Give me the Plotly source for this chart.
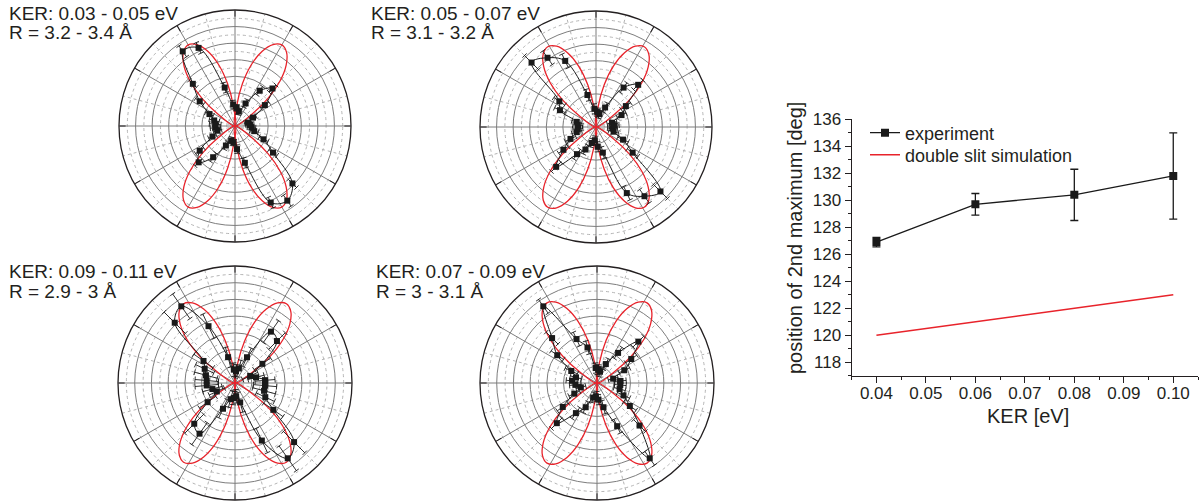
import numpy as np
import plotly.graph_objects as go

FONT = "Liberation Sans, Arial, sans-serif"
TXT = "#231f20"
W, H = 1199, 504

# ---------------- data ----------------
# angular bins (deg) of the polar distributions
BINS = [5, 15, 25, 35, 45, 55, 65, 75, 85, 95, 105, 115, 125, 135, 145, 155, 165, 175,
        185, 195, 205, 215, 225, 235, 245, 255, 265, 275, 285, 295, 305, 315, 325, 335, 345, 355]

# KER 0.03-0.05 eV
R_A = [0.9, 0.8, 1.2, 2.2, 3.2, 2.6, 1.5, 0.9, 1.1, 1.3, 2.4, 5.2, 5.5, 3.6, 2.6, 1.7, 1.3, 1.2,
       1.2, 1.1, 1.5, 2.6, 3.1, 2.3, 1.3, 0.9, 1.0, 1.4, 2.3, 5.1, 5.5, 4.9, 2.8, 1.9, 1.2, 1.0]
E_A = [0.25, 0.2, 0.2, 0.3, 0.3, 0.3, 0.25, 0.2, 0.2, 0.25, 0.3, 0.35, 0.4, 0.3, 0.3, 0.25, 0.3, 0.35,
       0.3, 0.25, 0.25, 0.3, 0.3, 0.3, 0.25, 0.2, 0.2, 0.25, 0.3, 0.35, 0.4, 0.35, 0.3, 0.3, 0.25, 0.25]
# KER 0.05-0.07 eV
R_B = [1.1, 1.0, 1.7, 2.2, 3.6, 2.9, 1.3, 0.8, 0.9, 1.1, 2.0, 4.4, 5.1, 5.5, 2.7, 2.4, 1.2, 1.1,
       1.1, 1.2, 1.7, 2.4, 3.4, 2.0, 1.5, 1.0, 0.8, 1.2, 1.6, 4.4, 5.1, 5.5, 2.7, 1.8, 1.1, 1.0]
E_B = [0.3, 0.3, 0.3, 0.35, 0.4, 0.35, 0.3, 0.25, 0.25, 0.3, 0.35, 0.45, 0.5, 0.6, 0.4, 0.35, 0.3, 0.3,
       0.3, 0.3, 0.35, 0.35, 0.4, 0.35, 0.3, 0.25, 0.25, 0.3, 0.35, 0.45, 0.5, 0.6, 0.4, 0.35, 0.3, 0.3]
# KER 0.09-0.11 eV
R_C = [1.8, 1.3, 1.0, 2.0, 3.55, 3.75, 1.7, 0.9, 0.7, 0.8, 1.6, 3.75, 5.6, 5.1, 2.3, 2.0, 1.8, 1.7,
       1.7, 1.4, 1.2, 2.0, 3.45, 3.7, 1.7, 1.0, 0.9, 0.8, 1.2, 3.8, 5.5, 5.0, 2.8, 2.0, 1.8, 1.8]
E_C = [0.6, 0.5, 0.5, 0.6, 0.7, 0.8, 0.6, 0.5, 0.4, 0.4, 0.6, 0.8, 0.9, 0.9, 0.7, 0.6, 0.7, 0.7,
       0.7, 0.6, 0.5, 0.6, 0.8, 0.8, 0.6, 0.5, 0.4, 0.4, 0.6, 0.8, 0.9, 0.9, 0.7, 0.6, 0.7, 0.7]
# KER 0.07-0.09 eV
R_D = [1.4, 1.0, 1.8, 2.5, 3.5, 2.2, 1.25, 0.7, 0.8, 0.9, 2.2, 2.9, 5.6, 3.8, 2.9, 1.7, 1.3, 1.5,
       1.3, 1.0, 1.5, 2.5, 3.4, 2.2, 1.6, 0.9, 0.8, 1.0, 1.5, 2.85, 5.5, 3.6, 2.4, 1.75, 1.4, 1.4]
E_D = [0.35, 0.3, 0.35, 0.4, 0.45, 0.4, 0.35, 0.3, 0.3, 0.3, 0.4, 0.45, 0.5, 0.5, 0.45, 0.4, 0.35, 0.35,
       0.35, 0.3, 0.35, 0.4, 0.45, 0.4, 0.35, 0.3, 0.3, 0.3, 0.4, 0.45, 0.5, 0.5, 0.45, 0.4, 0.35, 0.35]

# right panel
KER = [0.04, 0.06, 0.08, 0.10]
EXP_ANGLE = [126.9, 129.7, 130.4, 131.8]
EXP_ERR = [0.35, 0.8, 1.9, 3.2]
SIM_ANGLE = [120, 121, 122, 123]
X_TICKS = [0.04, 0.05, 0.06, 0.07, 0.08, 0.09, 0.10]
X_TICKTEXT = ["0.04", "0.05", "0.06", "0.07", "0.08", "0.09", "0.10"]

# double-slit simulation lobe shape (offset from lobe axis in deg, relative radius)
PETAL_LEN = 5.65
PETAL_OFF = [-29, -25, -20, -15, -10, -5, 0, 5, 10, 15, 20, 25, 29]
PETAL_PROFILE = [0.0, 0.22, 0.46, 0.68, 0.85, 0.96, 1.0, 0.96, 0.85, 0.68, 0.46, 0.22, 0.0]

LABEL1 = ["KER: 0.03 - 0.05 eV", "KER: 0.05 - 0.07 eV", "KER: 0.09 - 0.11 eV", "KER: 0.07 - 0.09 eV"]
LABEL2 = ["R = 3.2 - 3.4 Å", "R = 3.1 - 3.2 Å", "R = 2.9 - 3 Å", "R = 3 - 3.1 Å"]

# ---------------- layout geometry (pixels) ----------------
PANELS = [
    dict(cx=235, cy=126, R=116, r=R_A, e=E_A, k=0, lx=7, ly=13),
    dict(cx=596, cy=127, R=116, r=R_B, e=E_B, k=1, lx=369, ly=13),
    dict(cx=235, cy=383, R=117, r=R_C, e=E_C, k=3, lx=7, ly=271),
    dict(cx=597, cy=383, R=117, r=R_D, e=E_D, k=2, lx=374, ly=271),
]
LINE_GAP = 20
RMAX = 7
CAP_PX = 3.0

fig = go.Figure()
layout = {}
annotations = []

GRID_MAJ = "#7d7d7d"
GRID_MIN = "#b4b4b4"

for i, p in enumerate(PANELS):
    dom = dict(x=[(p["cx"] - p["R"]) / W, (p["cx"] + p["R"]) / W],
               y=[1 - (p["cy"] + p["R"]) / H, 1 - (p["cy"] - p["R"]) / H])
    gid = "polar" if i == 0 else f"polar{i+1}"
    mid = f"polar{i+5}"
    layout[gid] = dict(
        domain=dom, bgcolor="white",
        radialaxis=dict(range=[0, RMAX], tickvals=[k + 0.5 for k in range(RMAX)],
                        showticklabels=False, ticks="", showline=False,
                        gridcolor=GRID_MIN, gridwidth=1, griddash="dot"),
        angularaxis=dict(tickvals=list(range(15, 360, 30)), showticklabels=False, ticks="",
                         showline=False, gridcolor=GRID_MIN, gridwidth=1, griddash="dot"),
    )
    layout[mid] = dict(
        domain=dom, bgcolor="rgba(0,0,0,0)",
        radialaxis=dict(range=[0, RMAX], dtick=1, showticklabels=False, ticks="", showline=False,
                        gridcolor=GRID_MAJ, gridwidth=1),
        angularaxis=dict(dtick=30, showticklabels=False, ticks="inside", ticklen=6,
                         tickcolor=TXT, tickwidth=1.2, showline=True, linecolor=TXT,
                         linewidth=1.3, gridcolor=GRID_MAJ, gridwidth=1),
    )
    fig.add_trace(go.Scatterpolar(r=[0], theta=[0], mode="markers", marker=dict(opacity=0),
                                  subplot=gid, showlegend=False, hoverinfo="skip"))
    annotations.append(dict(x=p["lx"] / W, y=1 - p["ly"] / H, xref="paper", yref="paper",
                            xanchor="left", yanchor="middle", showarrow=False, text=LABEL1[i],
                            font=dict(family=FONT, size=19, color=TXT)))
    annotations.append(dict(x=p["lx"] / W, y=1 - (p["ly"] + LINE_GAP) / H, xref="paper", yref="paper",
                            xanchor="left", yanchor="middle", showarrow=False, text=LABEL2[i],
                            font=dict(family=FONT, size=19, color=TXT)))

for i, p in enumerate(PANELS):
    mid = f"polar{i+5}"
    pxu = p["R"] / RMAX
    s = SIM_ANGLE[p["k"]]
    rr, tt = [], []
    for axis in (s, 180 - s, 180 + s, 360 - s):
        for off, prof in zip(PETAL_OFF, PETAL_PROFILE):
            rr.append(PETAL_LEN * prof)
            tt.append(axis + off)
        rr.append(None); tt.append(None)
    fig.add_trace(go.Scatterpolar(r=rr, theta=tt, mode="lines", subplot=mid,
                                  line=dict(color="#e8232b", width=1.3, shape="spline"),
                                  showlegend=False, hoverinfo="skip"))
    er, et = [], []
    for th, rv, ev in zip(BINS, p["r"], p["e"]):
        lo, hi = max(rv - ev, 0.0), rv + ev
        er += [lo, hi, None]; et += [th, th, None]
        for rc in (lo, hi):
            if rc <= 0.05:
                continue
            d = min(np.degrees(CAP_PX / (rc * pxu)), 25.0)
            rc2 = rc / np.cos(np.radians(d))
            er += [rc2, rc2, None]; et += [th - d, th + d, None]
    fig.add_trace(go.Scatterpolar(r=er, theta=et, mode="lines", subplot=mid,
                                  line=dict(color="#1a1a1a", width=0.9),
                                  showlegend=False, hoverinfo="skip"))
    fig.add_trace(go.Scatterpolar(r=list(p["r"]) + [p["r"][0]], theta=BINS + [BINS[0]],
                                  mode="lines+markers", subplot=mid,
                                  line=dict(color="#1a1a1a", width=1.0, shape="spline"),
                                  marker=dict(symbol="square", size=6, color="#1a1a1a"),
                                  showlegend=False, hoverinfo="skip"))

# ---------------- right panel ----------------
fig.add_trace(go.Scatter(x=KER, y=EXP_ANGLE, mode="lines+markers", name="experiment",
                         line=dict(color="#1a1a1a", width=1.3),
                         marker=dict(symbol="square", size=8, color="#1a1a1a"),
                         error_y=dict(type="data", array=EXP_ERR, color="#1a1a1a",
                                      thickness=1.3, width=4),
                         xaxis="x", yaxis="y", legend="legend"))
fig.add_trace(go.Scatter(x=KER, y=SIM_ANGLE, mode="lines", name="double slit simulation",
                         line=dict(color="#e8232b", width=1.5), xaxis="x", yaxis="y",
                         legend="legend2"))

ax_x0, ax_x1 = 851.7, 1198
ax_y0, ax_y1 = 119.3, 375.7
layout["xaxis"] = dict(domain=[ax_x0 / W, ax_x1 / W], anchor="y", range=[0.035, 0.105],
                       tickvals=X_TICKS, ticktext=X_TICKTEXT, automargin=False,
                       ticks="outside", ticklen=6, tickwidth=1.2, tickcolor=TXT,
                       ticklabelstandoff=-4,
                       minor=dict(dtick=0.005, tick0=0.035, ticks="outside", ticklen=3,
                                  tickcolor=TXT, tickwidth=1),
                       showline=True, linecolor=TXT, linewidth=1.3, showgrid=False, zeroline=False,
                       tickfont=dict(family=FONT, size=17, color=TXT))
layout["yaxis"] = dict(domain=[1 - ax_y1 / H, 1 - ax_y0 / H], anchor="x", range=[117, 136],
                       tickvals=list(range(118, 137, 2)), automargin=False,
                       ticks="outside", ticklen=6, tickwidth=1.2, tickcolor=TXT,
                       minor=dict(dtick=1, tick0=117, ticks="outside", ticklen=3,
                                  tickcolor=TXT, tickwidth=1),
                       showline=True, linecolor=TXT, linewidth=1.3, showgrid=False, zeroline=False,
                       tickfont=dict(family=FONT, size=17, color=TXT))

annotations.append(dict(x=795 / W, y=1 - 238 / H, xref="paper", yref="paper", textangle=-90,
                        xanchor="center", yanchor="middle",
                        showarrow=False, text="position of 2nd maximum [deg]",
                        font=dict(family=FONT, size=20, color=TXT)))
annotations.append(dict(x=1028 / W, y=1 - 415.5 / H, xref="paper", yref="paper",
                        xanchor="center", yanchor="middle",
                        showarrow=False, text="KER [eV]",
                        font=dict(family=FONT, size=20, color=TXT)))

leg_common = dict(xanchor="left", yanchor="middle", bgcolor="rgba(0,0,0,0)",
                  font=dict(family=FONT, size=18, color=TXT))
fig.update_layout(
    template="none",
    width=W, height=H, margin=dict(l=0, r=0, t=0, b=0, pad=0), autosize=False,
    paper_bgcolor="white", plot_bgcolor="white",
    font=dict(family=FONT, color=TXT),
    showlegend=True,
    legend=dict(x=865 / W, y=1 - 133 / H, **leg_common),
    legend2=dict(x=865 / W, y=1 - 155 / H, **leg_common),
    annotations=annotations,
    **layout,
)

fig.write_html("out.html", config={"displayModeBar": False},
               post_script="document.body.style.margin='0px';document.body.style.overflow='hidden';")
